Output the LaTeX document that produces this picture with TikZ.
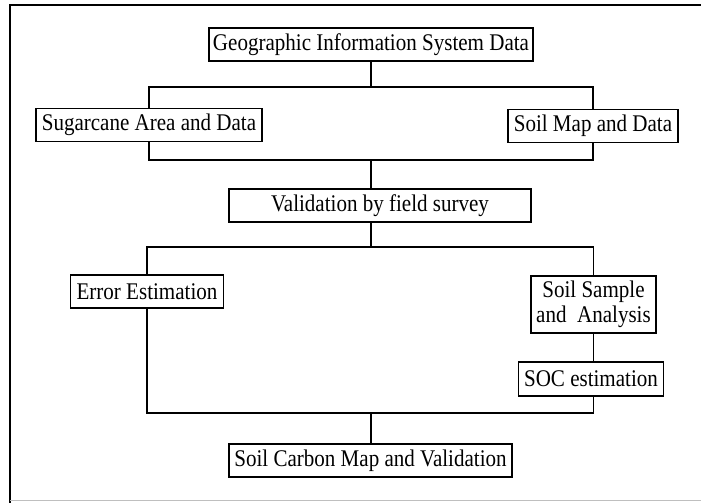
\documentclass[tikz,border=0pt]{standalone}
\usepackage{fontspec}
\setmainfont[FakeStretch=0.88]{Liberation Serif}
\usepackage{tikz}

\begin{document}
\begin{tikzpicture}[x=0.025cm,y=-0.025cm]
\tikzstyle{every path}=[line width=0.8pt];
\tikzstyle{box}=[draw,inner sep=0pt,minimum height=0.825cm,font=\fontsize{17}{18}\selectfont];
\useasboundingbox (0,0) rectangle (701,503);
% frame
\draw (701,5) -- (10,5) -- (10,503);
\draw[black!25,line width=0.5pt] (10,500) -- (701,500);
% boxes
\node (GIS) [box,minimum width=8.1cm] at (371,44.5) {Geographic Information System Data};
\node (SA) [box,minimum width=5.65cm] at (149,125) {Sugarcane Area and Data};
\node (SM) [box,minimum width=4.25cm] at (593,126) {Soil Map and Data};
\node (VF) [box,minimum width=7.55cm] at (380,205.5) {Validation by field survey};
\node (EE) [box,minimum width=3.825cm] at (147,291.5) {Error Estimation};
\node (SS) [box,minimum width=3.125cm,minimum height=1.425cm,align=center] at (593.5,304.5) {Soil Sample\\and~ Analysis};
\node (SOC) [box,minimum width=3.625cm,minimum height=0.85cm] at (591,379) {SOC estimation};
\node (SC) [box,minimum width=7.075cm] at (370.5,460.5) {Soil Carbon Map and Validation};
% joints
\coordinate (J1) at (371,87);
\coordinate (J2) at (371,160);
\coordinate (J3) at (371,247);
\coordinate (J4) at (371,413);
% connectors
\draw (GIS) -- (J1);
\draw (SA.north) |- (J1) -| (SM.north);
\draw (SA.south) |- (J2) -| (SM.south);
\draw (J2) -- (J2 |- VF.north);
\draw (J2 |- VF.south) -- (J3);
\draw (EE.north) |- (J3) -| (SS.north);
\draw (SS.south) -- (SS.south |- SOC.north);
\draw (EE.south) |- (J4) -| (SS.south |- SOC.south);
\draw (J4) -- (J4 |- SC.north);
\end{tikzpicture}
\end{document}
